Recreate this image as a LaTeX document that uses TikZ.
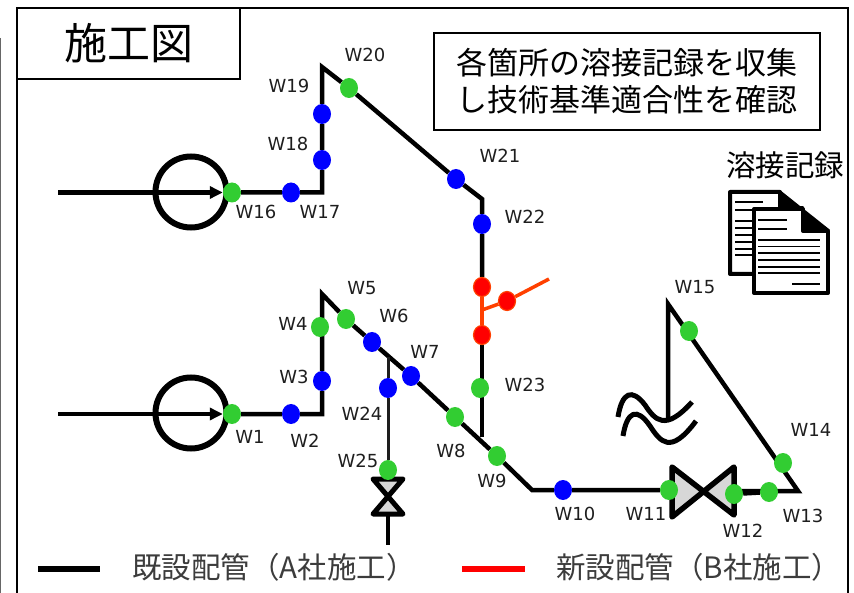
\documentclass[tikz,border=0pt]{standalone}
\usepackage{fontspec}
\setmainfont{DejaVu Sans}
\newfontfamily\jpfont{Noto Sans CJK JP}
\usetikzlibrary{arrows.meta,backgrounds,shapes.geometric}
\definecolor{weldgreen}{RGB}{50,205,50}
\definecolor{weldblue}{RGB}{0,0,255}
\definecolor{weldred}{RGB}{255,0,0}
\definecolor{newpipe}{RGB}{255,64,0}
\definecolor{valvegray}{RGB}{215,215,215}
\definecolor{labelgray}{RGB}{30,30,30}
\definecolor{legendgray}{RGB}{60,60,60}

\begin{document}
\begin{tikzpicture}[x=1pt,y=-1pt]

%
% Styles
%
\tikzstyle{weld} = [ellipse,inner sep=0pt,minimum width=18pt,minimum height=20pt]
\tikzstyle{gweld} = [weld,fill=weldgreen]
\tikzstyle{bweld} = [weld,fill=weldblue]
\tikzstyle{rweld} = [weld,fill=weldred,draw=newpipe,line width=1.2pt,minimum width=17pt,minimum height=19pt]
\tikzstyle{wlabel} = [text=labelgray,font=\fontsize{18}{18}\selectfont,inner sep=0pt]
\tikzstyle{pipe} = [line width=4.5pt,black]
\tikzstyle{pump} = [circle,draw=black,line width=6pt,minimum size=71pt,inner sep=0pt]
\tikzstyle{note} = [draw=black,line width=1.8pt,fill=white,inner sep=0pt]
\tikzstyle{pageline} = [line width=1.5pt,black]
\tikzstyle{legendtext} = [inner sep=0pt,anchor=west,text=legendgray,font=\jpfont\fontsize{29.5}{30}\selectfont]

\useasboundingbox (0,0) rectangle (854,593);

% frame
\draw[gray!80!black,line width=1.5pt] (0.5,38) -- (0.5,593);
\draw[line width=2.2pt] (17,593) -- (17,8) -- (848,8) -- (848,593);

% boxes
\node[note,line width=2.2pt,minimum width=223pt,minimum height=71pt,font=\jpfont\fontsize{43}{43}\selectfont] (title) at (128.5,43.5)
  {施工図};
\node[note,minimum width=386pt,minimum height=97pt,align=center,font=\jpfont\fontsize{31}{37}\selectfont] (memo) at (627,81.5)
  {各箇所の溶接記録を収集\\し技術基準適合性を確認};
\node[inner sep=0pt,font=\jpfont\fontsize{29.5}{29.5}\selectfont] (rec) at (785,165) {溶接記録};

% pumps
\node[pump] (p1) at (191,192) {};
\node[pump] (p2) at (191,413) {};

% welds
\node[gweld] (w16) at (232,192.5) {};
\node[bweld] (w17) at (291,192.5) {};
\node[bweld] (w18) at (322,160) {};
\node[bweld] (w19) at (322,114) {};
\node[gweld] (w20) at (349,88) {};
\node[bweld] (w21) at (456,179) {};
\node[bweld] (w22) at (482,224) {};
\node[rweld] (ra) at (482,287) {};
\node[rweld] (rb) at (507,301) {};
\node[rweld] (rc) at (482,335) {};
\node[gweld] (w23) at (480,388) {};
\node[gweld] (w1) at (232,414) {};
\node[bweld] (w2) at (291,414) {};
\node[bweld] (w3) at (322,381) {};
\node[gweld] (w4) at (320,327) {};
\node[gweld] (w5) at (346,319) {};
\node[bweld] (w6) at (372,342) {};
\node[bweld] (w7) at (411,376) {};
\node[gweld] (w8) at (455,417) {};
\node[gweld] (w9) at (497,456) {};
\node[bweld] (w10) at (563,490) {};
\node[gweld] (w11) at (669,490) {};
\node[gweld] (w12) at (734,494) {};
\node[gweld] (w13) at (769,492) {};
\node[gweld] (w14) at (783,463) {};
\node[gweld] (w15) at (689,331) {};
\node[bweld] (w24) at (388,388) {};
\node[gweld] (w25) at (388,470) {};

% weld labels
\node[wlabel] (l1) at (250,437) {W1};
\node[wlabel] (l2) at (305,441) {W2};
\node[wlabel] (l3) at (294,377) {W3};
\node[wlabel] (l4) at (293,324) {W4};
\node[wlabel] (l5) at (362,288) {W5};
\node[wlabel] (l6) at (394,316) {W6};
\node[wlabel] (l7) at (425,352) {W7};
\node[wlabel] (l8) at (451,451) {W8};
\node[wlabel] (l9) at (492,481) {W9};
\node[wlabel] (l10) at (575,514) {W10};
\node[wlabel] (l11) at (646,514) {W11};
\node[wlabel] (l12) at (743,531) {W12};
\node[wlabel] (l13) at (803,516) {W13};
\node[wlabel] (l14) at (811,430) {W14};
\node[wlabel] (l15) at (695,287) {W15};
\node[wlabel] (l16) at (256,212) {W16};
\node[wlabel] (l17) at (320,212) {W17};
\node[wlabel] (l18) at (288,144) {W18};
\node[wlabel] (l19) at (289,86) {W19};
\node[wlabel] (l20) at (365,55) {W20};
\node[wlabel] (l21) at (500,156) {W21};
\node[wlabel] (l22) at (525,217) {W22};
\node[wlabel] (l23) at (525,385) {W23};
\node[wlabel] (l24) at (362,414) {W24};
\node[wlabel] (l25) at (358,461) {W25};

% pipe corners
\coordinate (in1) at (58,192.5);
\coordinate (in2) at (58,414);
\coordinate (c17) at (322,192.5);
\coordinate (c19) at (322,67);
\coordinate (c22) at (482,199);
\coordinate (t23) at (482,437);
\coordinate (c2) at (322,414);
\coordinate (c5) at (322,294);
\coordinate (c9) at (532,490);
\coordinate (vb) at (703,491);
\coordinate (c13) at (798,491);
\coordinate (c15) at (668,304);
\coordinate (e15) at (668,418);
\coordinate (t24) at (388,357);
\coordinate (vs) at (388,497);
\coordinate (e25) at (388,545);
\coordinate (rt) at (482,310);
\coordinate (re) at (549,279);

\begin{scope}[on background layer]
\draw[pipe,-{Triangle[length=13pt,width=12pt]}] (in1) -- (w16);
\draw[pipe,-{Triangle[length=13pt,width=12pt]}] (in2) -- (w1);
\draw[pipe] (w16) -- (w17) -- (c17) -- (w18) -- (w19) -- (c19) -- (w20) -- (w21) -- (c22) -- (w22) -- (ra);
\draw[pipe] (rc) -- (t23);
\draw[pipe] (w1) -- (w2) -- (c2) -- (w3) -- (c5) -- (w5) -- (w6) -- (w7) -- (w8) -- (w9) -- (c9) -- (w10) -- (w11);
\draw[pipe] (vb) -- (c13) -- (c15) -- (e15);
\draw[pipe] (w12) -- (w13);
\draw[line width=3pt,labelgray] (t24) -- (w24) -- (w25);
\draw[pipe] (vs) -- (e25);
\draw[line width=3.5pt,newpipe] (ra) -- (rc);
\draw[line width=3.5pt,newpipe] (rt) -- (rb) -- (re);
\end{scope}

% valves
\begin{scope}[on background layer]
\draw[line width=5.5pt,fill=valvegray,line join=round] (672,467) -- (734,515) -- (734,467) -- (672,517) -- cycle;
\draw[line width=5pt,fill=valvegray,line join=round] (373,479) -- (403,479) -- (373,514) -- (403,514) -- cycle;
\end{scope}

% wave
\draw[line width=5pt] (618,417) .. controls (622,392) and (632,388) .. (645,405)
  .. controls (655,420) and (665,432) .. (692,402);
\draw[line width=5pt] (623,436) .. controls (627,411) and (637,407) .. (650,426)
  .. controls (660,441) and (670,456) .. (696,421);

% document icon
\draw[line width=4pt,fill=white,line join=round] (730,192) -- (780,192) -- (780,210) -- (800,228) -- (800,274) -- (730,274) -- cycle;
\foreach \y in {202,210}
  \draw[pageline] (735,\y) -- (763,\y);
\foreach \y in {221,228,235,242,249,255}
  \draw[pageline] (735,\y) -- (752,\y);
\draw[fill=black,line join=round,line width=1.5pt] (780,191) -- (829,230) -- (803,230) -- (803,207) -- (780,207) -- cycle;
\draw[line width=4pt,fill=white,line join=round] (754,209) -- (803,209) -- (803,231) -- (828,231) -- (828,293) -- (754,293) -- cycle;
\foreach \y in {220,229}
  \draw[pageline] (758,\y) -- (787,\y);
\foreach \y in {240,246.7,253,260,267,273}
  \draw[pageline] (758,\y) -- (820,\y);
\draw[pageline] (792,284) -- (820,284);

% legend
\node[legendtext] (leg1) at (132,567) {既設配管（A社施工）};
\node[legendtext] (leg2) at (556,567) {新設配管（B社施工）};
\coordinate (la) at (38,569);
\coordinate (lb) at (100,569);
\coordinate (lc) at (462,569);
\coordinate (ld) at (525,569);
\draw[line width=6pt,black] (la) -- (lb);
\draw[line width=6pt,red] (lc) -- (ld);

\end{tikzpicture}
\end{document}
